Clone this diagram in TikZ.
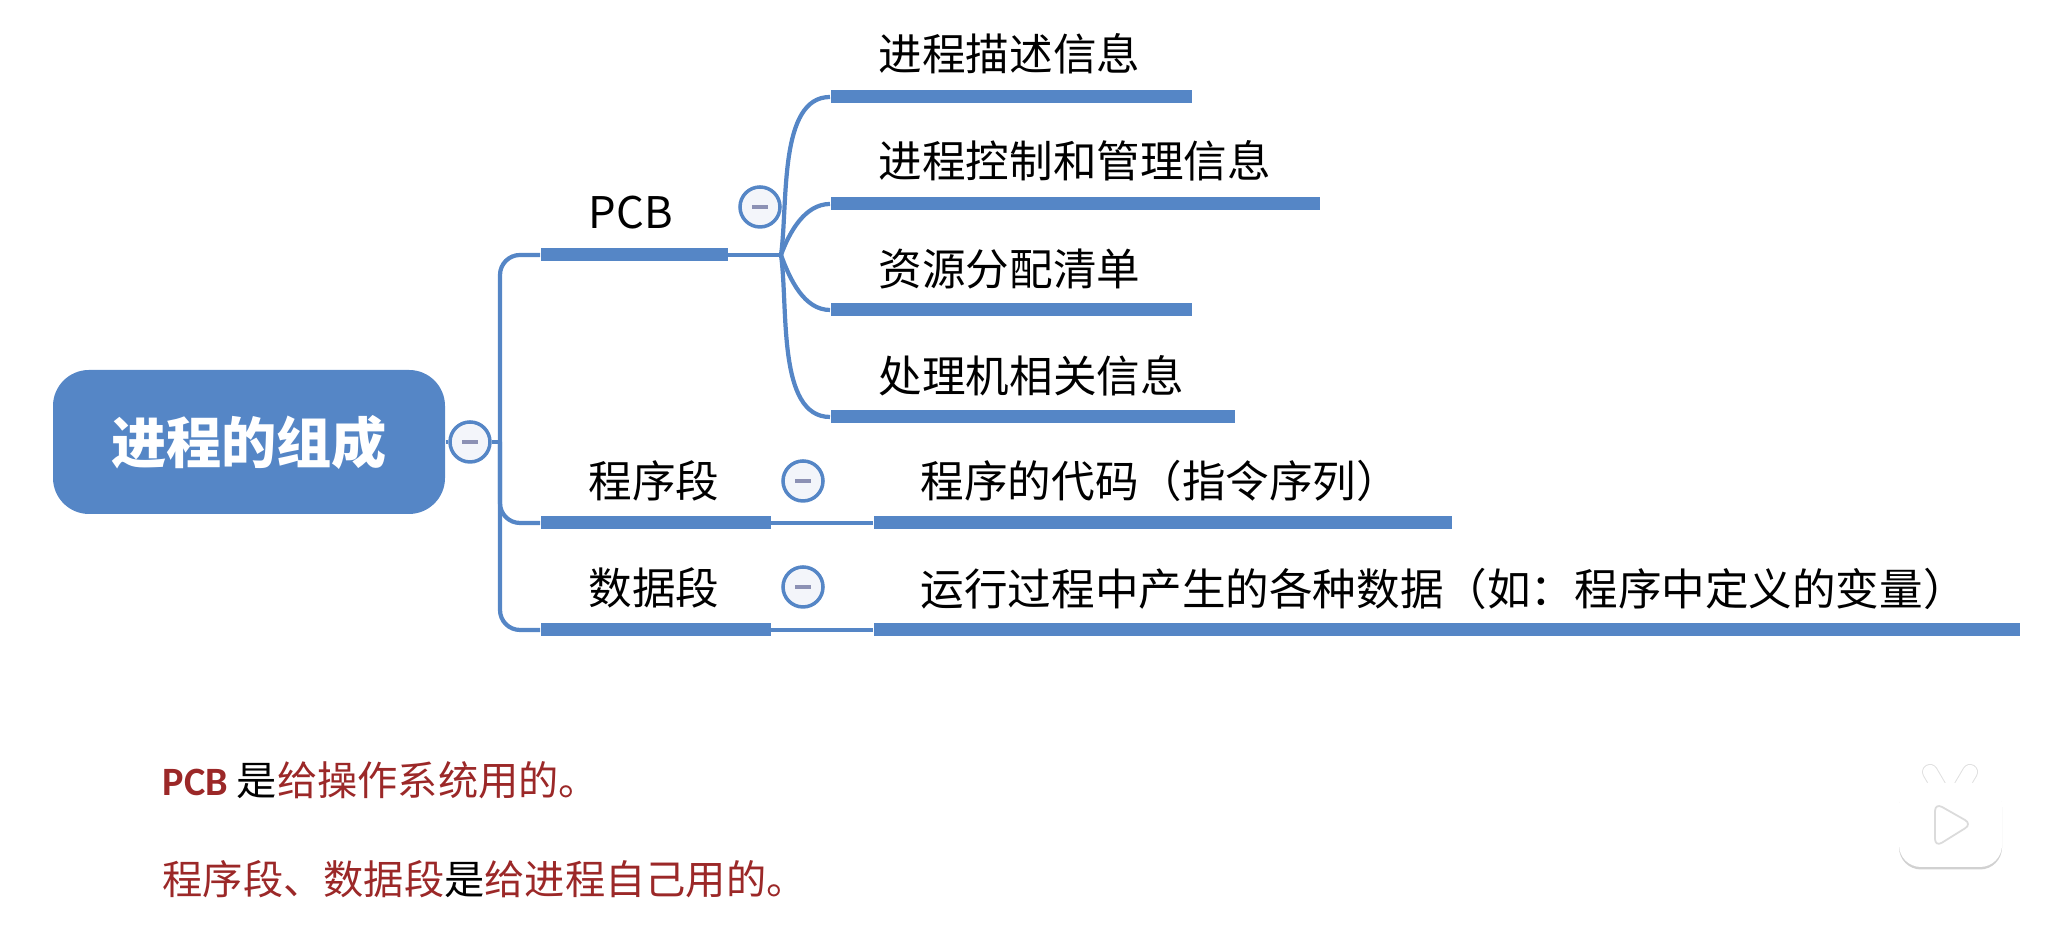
\documentclass[tikz,border=0pt]{standalone}
\usepackage{fontspec}
\setmainfont{Noto Sans CJK SC}
\newfontfamily\latinfont{Carlito}
\usetikzlibrary{arrows.meta,positioning,calc,shadows}
\definecolor{mapblue}{RGB}{85,134,198}
\definecolor{dotfill}{RGB}{243,245,250}
\definecolor{dotmark}{RGB}{140,145,180}
\definecolor{notered}{RGB}{155,40,40}

\begin{document}
\begin{tikzpicture}[
  font=\fontsize{12.4}{15}\selectfont,
  rootbox/.style={fill=mapblue, rounded corners=0.36cm, minimum width=3.92cm,
    minimum height=1.44cm, inner sep=0pt, text=white,
    font=\fontsize{15.7}{18}\selectfont\bfseries},
  bar/.style={fill=mapblue, anchor=west, inner sep=0pt, minimum height=1.3mm},
  ln/.style={draw=mapblue, line width=1.2pt},
  dot/.style={circle, draw=mapblue, line width=1pt, fill=dotfill,
    minimum size=4mm, inner sep=0pt,
    path picture={\draw[dotmark, line width=0.9pt]
      ([xshift=-0.8mm]path picture bounding box.center) --
      ([xshift=0.8mm]path picture bounding box.center);}},
  lb/.style={anchor=west, inner sep=0pt},
  note/.style={anchor=west, inner sep=0pt, text=notered,
    font=\fontsize{11.45}{14}\selectfont},
  tvbody/.style={fill=white, rounded corners=0.22cm, minimum width=1.03cm,
    minimum height=0.84cm, inner sep=0pt,
    drop shadow={shadow xshift=0pt, shadow yshift=-0.25mm, opacity=0.18, fill=black}},
]
\useasboundingbox (0,0) rectangle (20.67,9.25);
% root
\node[rootbox] (root) at (2.49,4.83) {进程的组成};
\node[dot] (rootdot) at (4.70,4.83) {};
\coordinate (J) at (5.00,4.83);
% branches
\node[bar, minimum width=1.87cm] (pcb) at (5.40,6.70) {};
\node[bar, minimum width=2.30cm] (seg) at (5.40,4.02) {};
\node[bar, minimum width=2.30cm] (dat) at (5.40,2.95) {};
\node[lb] (pcbt) at (5.88,7.12) {PCB};
\node[lb] (segt) at (5.88,4.44) {程序段};
\node[lb] (datt) at (5.88,3.37) {数据段};
\node[dot] (pcbdot) at (7.60,7.18) {};
\node[dot] (segdot) at (8.03,4.44) {};
\node[dot] (datdot) at (8.03,3.38) {};
% leaves
\node[bar, minimum width=3.61cm] (L1) at (8.30,8.28) {};
\node[bar, minimum width=4.89cm] (L2) at (8.30,7.21) {};
\node[bar, minimum width=3.61cm] (L3) at (8.30,6.15) {};
\node[bar, minimum width=4.04cm] (L4) at (8.30,5.08) {};
\node[bar, minimum width=5.78cm] (L5) at (8.73,4.02) {};
\node[bar, minimum width=11.46cm] (L6) at (8.73,2.95) {};
\node[lb] (T1) at (8.78,8.71) {进程描述信息};
\node[lb] (T2) at (8.78,7.64) {进程控制和管理信息};
\node[lb] (T3) at (8.78,6.56) {资源分配清单};
\node[lb] (T4) at (8.78,5.49) {处理机相关信息};
\node[lb] (T5) at (9.20,4.44) {程序的代码（指令序列）};
\node[lb] (T6) at (9.20,3.36) {运行过程中产生的各种数据（如：程序中定义的变量）};
% connectors
\draw[ln] (root.east) -- (rootdot);
\draw[ln] (rootdot) -- (J);
\draw[ln, rounded corners=0.2cm] (J) |- (pcb.west);
\draw[ln, rounded corners=0.2cm] (J) |- (seg.west);
\draw[ln, rounded corners=0.2cm] (J) |- (dat.west);
\coordinate (F) at (7.81,6.70);
\draw[ln] (pcb.east) -- (F);
\draw[ln] (F) to[out=82, in=180, looseness=0.8] (L1.west);
\draw[ln] (F) to[out=70, in=180, looseness=0.9] (L2.west);
\draw[ln] (F) to[out=-70, in=180, looseness=0.9] (L3.west);
\draw[ln] (F) to[out=-82, in=180, looseness=0.8] (L4.west);
\draw[ln] (seg.east) -- (L5.west);
\draw[ln] (dat.east) -- (L6.west);
% notes
\node[note] (N1) at (1.62,1.45) {{\latinfont\bfseries PCB} \textcolor{black}{是}给操作系统用的。};
\node[note] (N2) at (1.62,0.46) {程序段、数据段\textcolor{black}{是}给进程自己用的。};
% watermark
\draw[line width=1.6mm, black!12, line cap=round] (19.30,1.53) -- (19.40,1.36);
\draw[line width=1.6mm, black!12, line cap=round] (19.70,1.53) -- (19.60,1.36);
\draw[line width=1.4mm, white, line cap=round] (19.30,1.53) -- (19.40,1.36);
\draw[line width=1.4mm, white, line cap=round] (19.70,1.53) -- (19.60,1.36);
\node[tvbody] (tv) at (19.505,1.00) {};
\draw[draw=black!14, fill=white, line width=0.5pt, rounded corners=0.8mm]
  (19.35,1.22) -- (19.72,1.01) -- (19.35,0.78) -- cycle;
\end{tikzpicture}
\end{document}
